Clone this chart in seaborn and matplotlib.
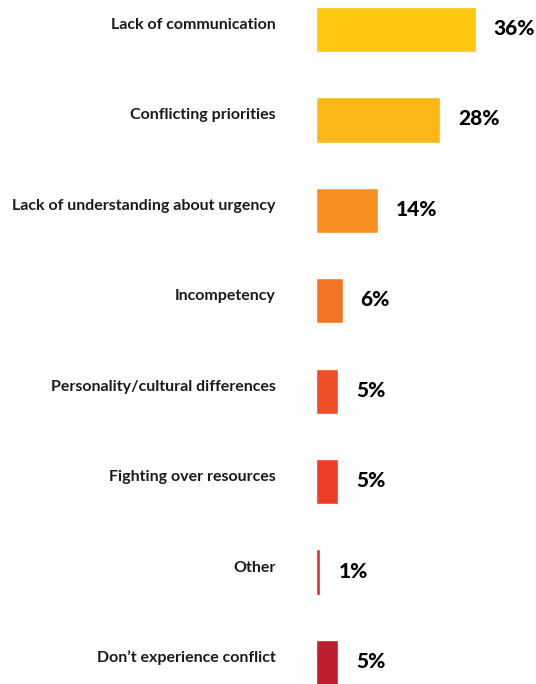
import matplotlib
matplotlib.use("Agg")
import matplotlib.pyplot as plt
import matplotlib.transforms as mtransforms
import seaborn as sns
import pandas as pd

# Survey responses: main causes of conflict
categories = [
    "Lack of communication",
    "Conflicting priorities",
    "Lack of understanding about urgency",
    "Incompetency",
    "Personality/cultural differences",
    "Fighting over resources",
    "Other",
    "Don\u2019t experience conflict",
]
shares = [36, 28, 14, 6, 5, 5, 1, 5]
bar_colors = [
    "#FDC80F", "#FBB718", "#F68E22", "#F47426",
    "#EF4E26", "#EE3E27", "#DD3128", "#BE1E2E",
]

df = pd.DataFrame({"cause": categories, "share": shares})

sns.set_theme(style="white")
plt.rcParams["font.family"] = ["Lato", "DejaVu Sans"]

fig = plt.figure(figsize=(5.36, 6.84), dpi=100)
ax = fig.add_axes([316 / 536, 0, 220 / 536, 1])

sns.barplot(
    data=df, y="cause", x="share", hue="cause", palette=bar_colors,
    order=categories, width=0.5, legend=False, ax=ax, saturation=1,
)

ax.set_xlim(0, 220 / 4.44)
ax.set_ylim(7.238, -0.326)
ax.set_xlabel("")
ax.set_ylabel("")
ax.set_xticks([])
ax.set_yticks([])
sns.despine(ax=ax, left=True, bottom=True)

# category names to the left of the bars, baseline at the bar's centre line
label_tf = mtransforms.offset_copy(
    ax.get_yaxis_transform(), fig=fig, x=-40, y=0.5, units="dots"
)
for i, name in enumerate(categories):
    ax.text(0, i, name, transform=label_tf, ha="right", va="baseline",
            fontsize=11.5, fontweight="bold", color="#1a1a1a")

# value labels after each bar
val_tf = mtransforms.offset_copy(ax.transData, fig=fig, x=18, y=-5.5, units="dots")
for i, v in enumerate(shares):
    ax.text(v, i, f"{v}%", transform=val_tf, ha="left", va="baseline",
            fontsize=15, fontweight="black", color="#000000", clip_on=False)

fig.savefig("out.png", dpi=100)
